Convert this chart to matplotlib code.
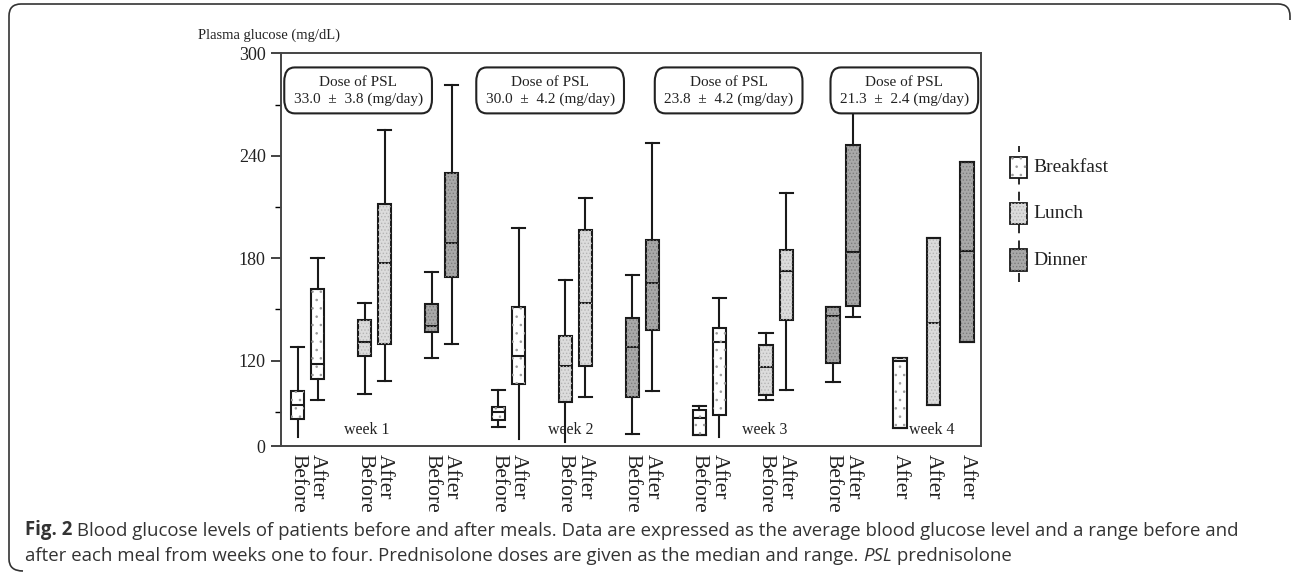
import matplotlib
matplotlib.use('Agg')
import matplotlib.pyplot as plt
from matplotlib.patches import FancyBboxPatch, Rectangle, PathPatch
from matplotlib.lines import Line2D
from matplotlib.path import Path
from matplotlib.text import Annotation
from matplotlib.transforms import Affine2D

plt.rcParams['font.family'] = 'Liberation Serif'
plt.rcParams['hatch.linewidth'] = 0.6

# ── Data (plasma glucose, mg/dL) ───────────────────────────────────────────
weeks  = [1, 1, 1, 1, 1, 1, 2, 2, 2, 2, 2, 2, 3, 3, 3, 3, 3, 3, 4, 4, 4]
meals  = ['Breakfast', 'Breakfast', 'Lunch', 'Lunch', 'Dinner', 'Dinner'] * 3 + \
         ['Breakfast', 'Lunch', 'Dinner']
timing = ['Before', 'After'] * 9 + ['After', 'After', 'After']
q1     = [86, 109, 123, 130, 137, 169,
          85.3, 106.4, 95.6, 116.7, 99, 138,
          76.7, 88.4, 100, 143.8, 118.6, 152.2,
          80.6, 94, 131]
med    = [94, 118, 131, 177, 140.5, 189,
          89.7, 122.5, 116.7, 153.8, 127.8, 165.5,
          86.2, 130.7, 116, 172.3, 145.9, 183.8,
          120, 142, 184]
q3     = [102, 162, 144, 212, 153, 230,
          93, 151.6, 134.2, 196.7, 145, 190.8,
          91.1, 139.1, 129.4, 184.8, 151.2, 246,
          121.6, 191.6, 236.5]
lo     = [75.5, 97, 100.5, 108, 121.5, 129.5,
          81.4, 74.2, 72.2, 98.5, 77, 102.4,
          76.7, 75.5, 97.2, 103, 107.7, 145.8,
          80.6, 94, 131]
hi     = [128, 180, 154, 255, 172, 281.5,
          103, 197.5, 167.4, 215, 170.4, 247.4,
          93.3, 156.5, 136.2, 218, 151.2, 275,
          121.6, 191.6, 236.5]
doses  = ['33.0 ± 3.8', '30.0 ± 4.2', '23.8 ± 4.2', '21.3 ± 2.4']
week_labels = ['week 1', 'week 2', 'week 3', 'week 4']

meal_order = ['Breakfast', 'Lunch', 'Dinner']
FILL   = {'Breakfast': 'white',   'Lunch': '#dcdcdc', 'Dinner': '#a9a9a9'}
DOTS   = {'Breakfast': '#9a9a9a', 'Lunch': '#b4b4b4', 'Dinner': '#7c7c7c'}
HATCH  = {'Breakfast': '..',      'Lunch': '.....',   'Dinner': '.....'}
EDGE   = '#1a1a1a'
TXT    = '#222222'

# positions: weeks 1-3 as before/after pairs, week 4 only "after" boxes
positions = []
for w, m, t in zip(weeks, meals, timing):
    k = meal_order.index(m)
    if w < 4:
        positions.append((w - 1) * 3 + k + (0.3 if t == 'After' else 0))
    else:
        positions.append(9 + 0.5 * k)

stats = [dict(med=md, q1=a, q3=b, whislo=l, whishi=h, fliers=[])
         for md, a, b, l, h in zip(med, q1, q3, lo, hi)]

# ── Figure ─────────────────────────────────────────────────────────────────
fig = plt.figure(figsize=(12.93, 5.73), dpi=100)
ax = fig.add_axes([0.2173, 0.2216, 0.5414, 0.6854])

bp = ax.bxp(stats, positions=positions, widths=0.2, capwidths=0.2,
            patch_artist=True, showfliers=False,
            boxprops=dict(edgecolor=EDGE, linewidth=1.5),
            whiskerprops=dict(color=EDGE, linewidth=1.5),
            capprops=dict(color=EDGE, linewidth=1.5),
            medianprops=dict(color=EDGE, linewidth=1.5))

for i, (box, m) in enumerate(zip(bp['boxes'], meals)):
    box.set_facecolor(FILL[m])
    # dotted texture on top of the fill, in a softer grey than the outline
    ax.add_patch(PathPatch(box.get_path(), transform=box.get_transform(),
                           facecolor='none', edgecolor=DOTS[m], linewidth=0,
                           hatch=HATCH[m], zorder=box.get_zorder() + 0.1))
    # lower whiskers that run into the axis floor show no cap
    if lo[i] < 76 and lo[i] < q1[i]:
        bp['caps'][2 * i].set_visible(False)

ax.set_ylim(70, 300)
ax.set_xlim(-0.25, 10.21)
ax.set_yticks([70, 120, 180, 240, 300])
ax.set_yticklabels(['0', '120', '180', '240', '300'])
ax.set_yticks([90, 150, 210, 270], minor=True)
ax.tick_params(axis='y', which='major', direction='out', length=7, width=1.2,
               labelsize=13, pad=4, colors=TXT)
ax.tick_params(axis='y', which='minor', direction='out', length=4, width=1.0)
ax.set_xticks(positions)
ax.set_xticklabels(timing, rotation=-90, fontsize=15.5, color=TXT)
ax.tick_params(axis='x', length=0, pad=6)
for s in ax.spines.values():
    s.set_linewidth(1.4)
    s.set_color('#444444')

fig.text(0.153, 0.939, 'Plasma glucose (mg/dL)', fontsize=10.5,
         color=TXT, va='center')

# dose boxes
box_x = [0.0047, 0.279, 0.534, 0.785]
for bx, d in zip(box_x, doses):
    ax.add_patch(FancyBboxPatch((bx, 0.847), 0.211, 0.117,
                                boxstyle='round,pad=0,rounding_size=0.015',
                                transform=ax.transAxes, facecolor='white',
                                edgecolor=TXT, linewidth=1.5,
                                zorder=5, mutation_aspect=2.4))
    ax.text(bx + 0.1055, 0.925, 'Dose of PSL', transform=ax.transAxes,
            ha='center', va='center', fontsize=11, zorder=6, color=TXT)
    ax.text(bx + 0.1055, 0.882, d.replace(' ± ', '  ±  ') + ' (mg/day)',
            transform=ax.transAxes, ha='center', va='center', fontsize=11,
            zorder=6, color=TXT)

for x, wl in zip([0.122, 0.414, 0.691, 0.930], week_labels):
    ax.text(x, 0.041, wl, transform=ax.transAxes, ha='center', va='center',
            fontsize=11.5, color=TXT)

# legend drawn by hand (boxplot key with dashed whisker line)
fig.add_artist(Line2D([0.788, 0.788], [0.507, 0.745], color=EDGE,
                      linewidth=1.3, linestyle=(0, (5, 4))))
for yb, m in zip([0.689, 0.609, 0.5276], meal_order):
    fig.add_artist(Rectangle((0.781, yb), 0.0135, 0.037, facecolor=FILL[m],
                             edgecolor=EDGE, linewidth=1.3, zorder=3))
    fig.add_artist(Rectangle((0.781, yb), 0.0135, 0.037, facecolor='none',
                             hatch=HATCH[m], edgecolor=DOTS[m], linewidth=0,
                             zorder=3.1))
    fig.text(0.799, yb + 0.0185, m, fontsize=14, va='center', color=TXT)

# caption
CAP = dict(fontsize=13.4, family='Open Sans', color='#333333', va='baseline')


def chain(prev, s, **kw):
    a = Annotation(s, xy=(1, 0), xycoords=prev, xytext=(0, 0),
                   textcoords='offset points', **{**CAP, 'va': 'bottom', **kw})
    fig.add_artist(a)
    return a


t1 = fig.text(0.0193, 0.066, 'Fig. 2', fontweight='bold', **CAP)
chain(t1, ' Blood glucose levels of patients before and after meals. Data are '
          'expressed as the average blood glucose level and a range before and')
t2 = fig.text(0.0193, 0.021, 'after each meal from weeks one to four. Prednisolone '
              'doses are given as the median and range. ', **CAP)
t3 = chain(t2, 'PSL', style='italic')
chain(t3, ' prednisolone')

# outer frame: left side and top, with rounded corners (pixel coordinates)
r = 12
frame = Path([(23, 571), (9, 571), (9, 571 - r),
              (9, 4 + r), (9, 4), (9 + r, 4),
              (1290 - r, 4), (1290, 4), (1290, 4 + r), (1290, 20)],
             [Path.MOVETO, Path.CURVE3, Path.CURVE3,
              Path.LINETO, Path.CURVE3, Path.CURVE3,
              Path.LINETO, Path.CURVE3, Path.CURVE3, Path.LINETO])
px = Affine2D().scale(1 / 1293, -1 / 573).translate(0, 1) + fig.transFigure
fig.add_artist(PathPatch(frame, transform=px, facecolor='none',
                         edgecolor='#333333', linewidth=1.2))

fig.savefig('out.png', dpi=100)
